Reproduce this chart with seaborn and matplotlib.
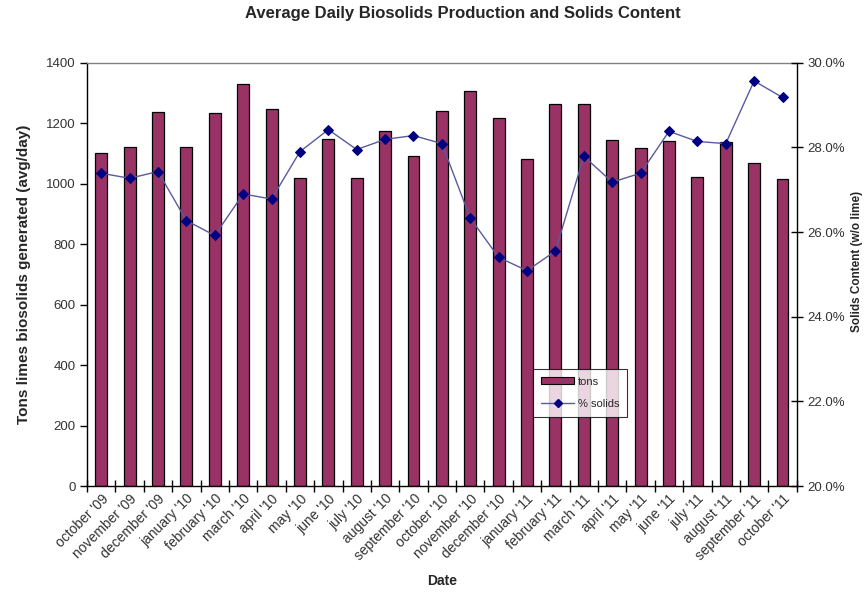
import numpy as np
import pandas as pd
import matplotlib
matplotlib.use("Agg")
import matplotlib.pyplot as plt
from matplotlib.ticker import FixedLocator, FuncFormatter
from matplotlib.lines import Line2D
from matplotlib.patches import Patch
import seaborn as sns

months = ["october '09", "november '09", "december '09", "january '10", "february '10",
          "march '10", "april '10", "may '10", "june '10", "july '10", "august '10",
          "september '10", "october '10", "november '10", "december '10", "january '11",
          "february '11", "march '11", "april '11", "may '11", "june '11", "july '11",
          "august '11", "september '11", "october '11"]

tons = [1101, 1121, 1237, 1123, 1234, 1331, 1247, 1020, 1148, 1020, 1174, 1093, 1242,
        1305, 1217, 1082, 1262, 1265, 1145, 1118, 1141, 1022, 1137, 1070, 1016]

pct_solids = [27.39, 27.27, 27.43, 26.27, 25.92, 26.90, 26.78, 27.90, 28.42, 27.95,
              28.19, 28.28, 28.09, 26.33, 25.40, 25.09, 25.55, 27.79, 27.18, 27.39,
              28.38, 28.14, 28.09, 29.57, 29.18]

left_ticks = [0, 200, 400, 600, 800, 1000, 1200, 1400]
right_ticks = [20, 22, 24, 26, 28, 30]

bar_color = "#993366"
line_color = "#5a5a9e"
marker_color = "#000080"

sns.set_theme(style="white")
plt.rcParams["font.family"] = ["Liberation Sans", "DejaVu Sans"]

df = pd.DataFrame({"month": months, "tons": tons, "pct": pct_solids})

fig = plt.figure(figsize=(8.66, 5.92), dpi=100)
ax = fig.add_axes([0.1005, 0.179, 0.8195, 0.715])

sns.barplot(data=df, x="month", y="tons", ax=ax, color=bar_color, saturation=1,
            width=0.42, edgecolor="black", linewidth=0.9)

ax.set_xlim(-0.5, len(months) - 0.5)
ax.set_ylim(0, 1400)
ax.yaxis.set_major_locator(FixedLocator(left_ticks))
ax.tick_params(axis="y", which="major", direction="out", length=5, width=1,
               color="black", labelsize=9.5, labelcolor="#333333", pad=3, left=True)

# category ticks sit between the bars, labels under the bars
ax.xaxis.set_minor_locator(FixedLocator(np.arange(-0.5, len(months), 1.0)))
ax.tick_params(axis="x", which="minor", direction="inout", length=8, width=1,
               color="black", bottom=True)
ax.tick_params(axis="x", which="major", length=0, labelsize=10, labelcolor="#333333", pad=4)
plt.setp(ax.get_xticklabels(), rotation=45, ha="right", rotation_mode="anchor")

for side in ["left", "bottom"]:
    ax.spines[side].set_color("black")
    ax.spines[side].set_linewidth(1.0)
ax.spines["top"].set_color("#808080")
ax.spines["top"].set_linewidth(1.0)
ax.spines["right"].set_visible(False)

ax.set_xlabel("Date", fontsize=10, fontweight="bold", labelpad=8)
ax.set_ylabel("Tons limes biosolids generated (avg/day)", fontsize=11,
              fontweight="bold", labelpad=11)

ax2 = ax.twinx()
sns.lineplot(x=np.arange(len(months)), y=pct_solids, ax=ax2, color=line_color,
             linewidth=1.0, marker="D", markersize=5, markerfacecolor=marker_color,
             markeredgecolor=marker_color, legend=False)
ax2.set_ylim(20, 30)
ax2.yaxis.set_major_locator(FixedLocator(right_ticks))
ax2.yaxis.set_major_formatter(FuncFormatter(lambda v, p: f"{v:.1f}%"))
ax2.tick_params(axis="y", which="major", direction="inout", length=9, width=1,
                color="black", labelsize=9.5, labelcolor="#333333", pad=3, right=True)
for side in ["left", "bottom", "top"]:
    ax2.spines[side].set_visible(False)
ax2.spines["right"].set_visible(True)
ax2.spines["right"].set_color("black")
ax2.spines["right"].set_linewidth(1.0)
ax2.set_ylabel("Solids Content (w/o lime)", fontsize=8.5, fontweight="bold", labelpad=4)
ax2.yaxis.set_label_coords(1.076, 0.53)
ax2.grid(False)
ax.grid(False)

handles = [
    Patch(facecolor=bar_color, edgecolor="black", linewidth=0.8),
    Line2D([0], [0], color=line_color, linewidth=1.0, marker="D", markersize=4,
           markerfacecolor=marker_color, markeredgecolor=marker_color),
]
leg = ax2.legend(handles, ["tons", "% solids"], loc="lower left",
                 bbox_to_anchor=(0.621, 0.151, 0.147, 0.107), mode="expand",
                 fontsize=8, frameon=True, fancybox=False, borderpad=0.7,
                 labelspacing=1.1, handlelength=3.0, handleheight=0.5,
                 handletextpad=0.3)
leg.get_frame().set_edgecolor("black")
leg.get_frame().set_linewidth(0.8)

fig.suptitle("Average Daily Biosolids Production and Solids Content", x=0.535, y=0.99,
             fontsize=12, fontweight="bold")

fig.savefig("out.png", dpi=100, facecolor="white")
